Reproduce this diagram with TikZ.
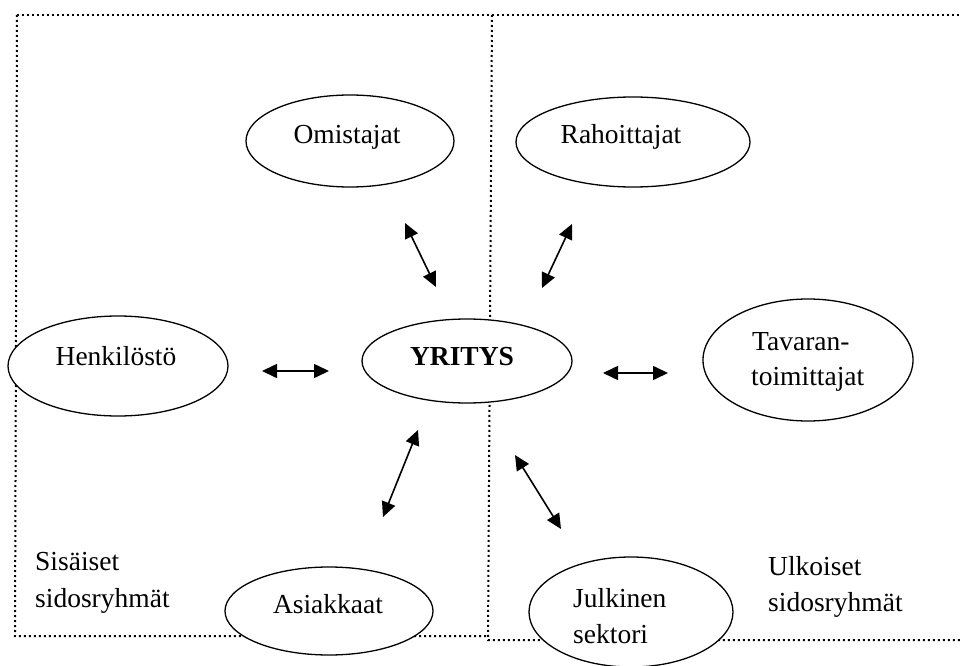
\documentclass[tikz,border=0pt]{standalone}
\usepackage{fontspec}
\setmainfont{Liberation Serif}
\usetikzlibrary{shapes.geometric,arrows.meta,calc}
\tikzset{
  grp/.style={draw=black, line width=2pt, dash pattern=on 2pt off 3pt},
  ell/.style={draw=black, fill=white, ellipse, line width=1.3pt, inner sep=0pt},
  lbl/.style={anchor=base, inner sep=0pt, font=\fontsize{27.5}{36}\selectfont},
  lblL/.style={anchor=base west, inner sep=0pt, font=\fontsize{27.5}{36}\selectfont},
  link/.style={line width=1.6pt, {Triangle[length=15pt,width=14pt]}-{Triangle[length=15pt,width=14pt]}},
}
\begin{document}
\begin{tikzpicture}[x=1pt,y=-1pt]
\useasboundingbox (0,0) rectangle (961,666);

% group frames
\coordinate (tl) at (17,15);
\coordinate (tr) at (961,15);
\coordinate (bl) at (15,636);
\coordinate (dtop) at (492,15);
\coordinate (dbot) at (488,636);
\coordinate (dbot2) at (488,640);
\coordinate (br) at (961,640);
\draw[grp] (tl) -- (tr);
\draw[grp] (tl) -- (bl) -- (dbot);
\draw[grp] (dtop) -- (dbot2) -- (br);

% stakeholder ellipses
\node[ell, minimum width=208pt, minimum height=92pt] (om) at (350,141) {};
\node[ell, minimum width=234pt, minimum height=90pt] (ra) at (633,142) {};
\node[ell, minimum width=220pt, minimum height=100pt] (he) at (118,366) {};
\node[ell, minimum width=210pt, minimum height=84pt] (yr) at (467,361) {};
\node[ell, minimum width=210pt, minimum height=122pt] (ta) at (808,360) {};
\node[ell, minimum width=208pt, minimum height=88pt] (as) at (329,611) {};
\node[ell, minimum width=204pt, minimum height=110pt] (ju) at (631,612) {};

% texts
\node[lbl] (omt) at (347,143) {Omistajat};
\node[lbl] (rat) at (621,143) {Rahoittajat};
\node[lbl] (het) at (116,365) {Henkilöstö};
\node[lbl] (yrt) at (462,365) {\textbf{YRITYS}};
\node[lblL] (tat1) at (752,350) {Tavaran-};
\node[lblL] (tat2) at (751,385) {toimittajat};
\node[lbl] (ast) at (328,613) {Asiakkaat};
\node[lblL] (jut1) at (573,607) {Julkinen};
\node[lblL] (jut2) at (573,643) {sektori};
\node[lblL] (si1) at (35,570) {Sisäiset};
\node[lblL] (si2) at (35,607) {sidosryhmät};
\node[lblL] (ul1) at (768,575) {Ulkoiset};
\node[lblL] (ul2) at (768,611) {sidosryhmät};

% two-way links
\coordinate (a1s) at (405,223); \coordinate (a1e) at (436,287);
\coordinate (a2s) at (572,224); \coordinate (a2e) at (542,288);
\coordinate (a3s) at (262,371); \coordinate (a3e) at (329,371);
\coordinate (a4s) at (603,373); \coordinate (a4e) at (668,373);
\coordinate (a5s) at (418,430); \coordinate (a5e) at (383,517);
\coordinate (a6s) at (515,455); \coordinate (a6e) at (561,529);
\draw[link] (a1s) -- (a1e);
\draw[link] (a2s) -- (a2e);
\draw[link] (a3s) -- (a3e);
\draw[link] (a4s) -- (a4e);
\draw[link] (a5s) -- (a5e);
\draw[link] (a6s) -- (a6e);
\end{tikzpicture}
\end{document}
